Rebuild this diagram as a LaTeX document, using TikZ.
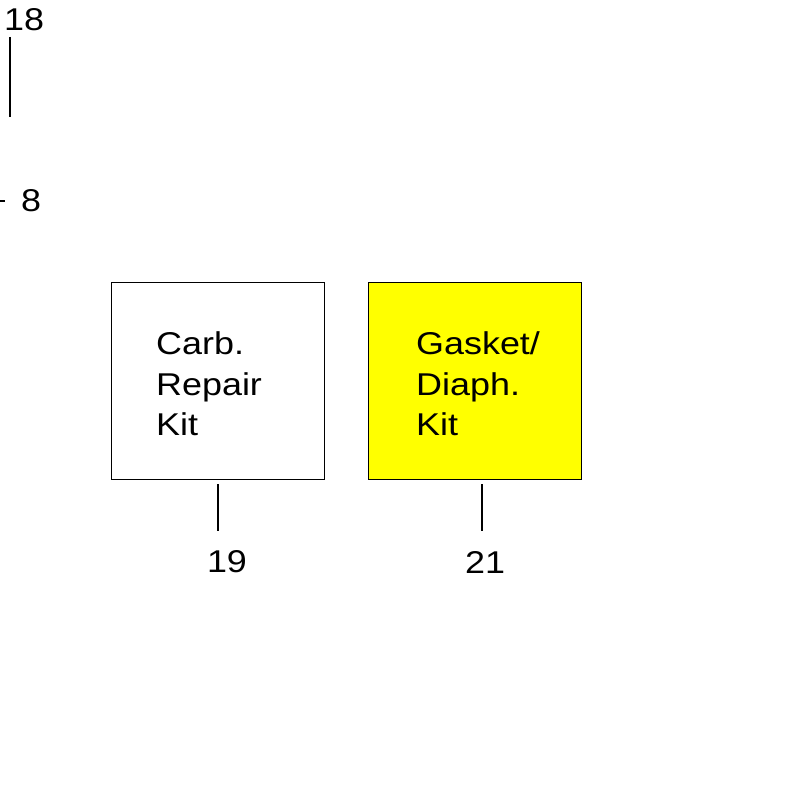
\documentclass[tikz,border=0pt]{standalone}
\usepackage{fontspec}
\setmainfont{Liberation Sans}[FakeStretch=1.14]
\definecolor{kity}{RGB}{255,255,0}
\begin{document}
\begin{tikzpicture}[x=1pt,y=-1pt,
  kit/.style={draw=black,line width=1.3pt,minimum width=213pt,minimum height=197pt,anchor=north west,inner sep=0pt},
  kittext/.style={align=left,anchor=west,inner sep=0pt,font=\fontsize{31.5}{40.5}\selectfont},
  num/.style={inner sep=0pt,font=\fontsize{31.5}{36}\selectfont},
  lead/.style={line width=1.4pt}]
\useasboundingbox (0,0) rectangle (800,800);
\node[kit] (b1) at (111,282) {};
\node[kit,fill=kity] (b2) at (368,282) {};
\node[kittext] (t1) at (156,384) {Carb.\\Repair\\Kit};
\node[kittext] (t2) at (416,384) {Gasket/\\Diaph.\\Kit};
\node[num] (l19) at (227,562) {19};
\node[num] (l21) at (485,562) {21};
\coordinate (c1) at (218,484);
\coordinate (c2) at (482,484);
\draw[lead] (c1) -- ++(0,47);
\draw[lead] (c2) -- ++(0,47);
\node[num,anchor=west] (l18) at (4,20) {18};
\coordinate (c18) at (10,37);
\draw[lead] (c18) -- ++(0,80);
\node[num,anchor=west] (l8) at (21,201) {8};
\coordinate (c8) at (0,201);
\draw[lead] (c8) -- ++(5,0);
\end{tikzpicture}
\end{document}
